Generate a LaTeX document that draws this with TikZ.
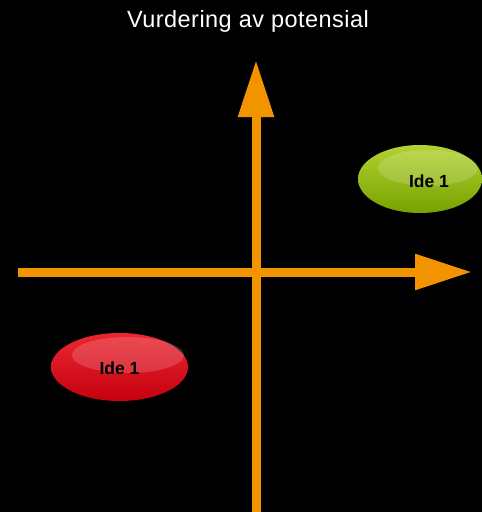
\documentclass[tikz,border=0pt]{standalone}
\usepackage{fontspec}
\setmainfont{Liberation Sans}
\newfontfamily\titlefont[LetterSpace=2]{Liberation Sans}
\usetikzlibrary{arrows.meta,shapes.geometric}
\definecolor{axisorange}{RGB}{242,148,0}
\definecolor{grnlight}{RGB}{180,210,50}
\definecolor{grndark}{RGB}{118,162,0}
\definecolor{redlight}{RGB}{234,40,50}
\definecolor{reddark}{RGB}{198,0,15}
\tikzset{
  axis/.style={draw=axisorange, line width=9pt, -{Triangle[length=57pt,width=34pt]}},
  pill/.style={ellipse, minimum width=#1, minimum height=68pt, inner sep=0pt},
  label/.style={font=\bfseries\fontsize{17.5}{20}\selectfont, text=black},
  glow/.style={fill=white, fill opacity=0.16, draw=none}
}
\begin{document}
\begin{tikzpicture}[x=1pt,y=-1pt]
\fill[black] (0,0) rectangle (482,512);
\useasboundingbox (0,0) rectangle (482,512);
\clip (0,0) rectangle (482,512);
\node (title) at (248,21) {\titlefont\fontsize{23.5}{27}\selectfont\color{white}Vurdering av potensial};
% axes
\coordinate (ybot) at (256,512);
\coordinate (ytop) at (256,60);
\coordinate (xl) at (18,272);
\coordinate (xr) at (472,272);
\draw[axis] (ybot) -- (ytop);
\draw[axis] (xl) -- (xr);
% green pill
\node[pill=124pt, top color=grnlight, bottom color=grndark] (g) at (420,179) {};
\fill[glow] (428,168) ellipse (50pt and 18pt);
\node[label] (gl) at (429,181) {Ide 1};
% red pill
\node[pill=137pt, top color=redlight, bottom color=reddark] (r) at (119.5,367) {};
\fill[glow] (128,355) ellipse (56pt and 18pt);
\node[label] (rl) at (119.5,368) {Ide 1};
\end{tikzpicture}
\end{document}
